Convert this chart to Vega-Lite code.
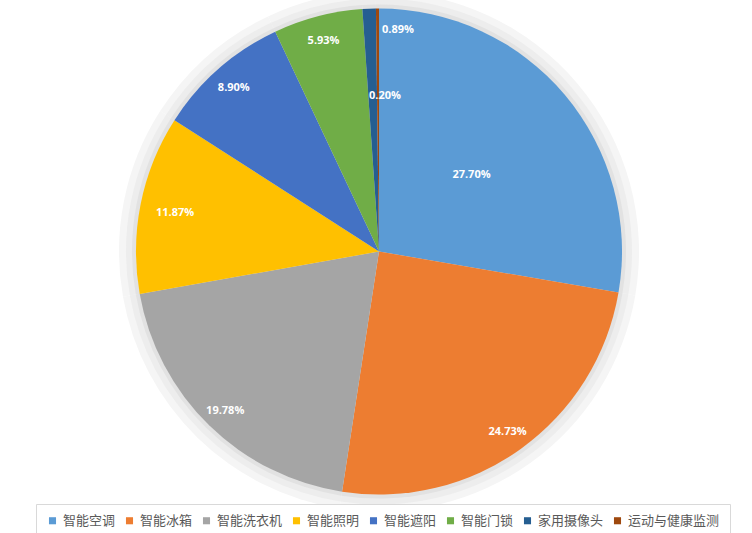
{
  "$schema": "https://vega.github.io/schema/vega-lite/v6.json",
  "autosize": "none",
  "width": 758,
  "height": 503,
  "padding": {"left": 0, "top": 0, "right": 0, "bottom": 30},
  "background": "#ffffff",
  "config": {"view": {"stroke": null}},
  "data": {"values": [
    {"idx": 1, "name": "智能空调", "share": 0.2770},
    {"idx": 2, "name": "智能冰箱", "share": 0.2473},
    {"idx": 3, "name": "智能洗衣机", "share": 0.1978},
    {"idx": 4, "name": "智能照明", "share": 0.1187},
    {"idx": 5, "name": "智能遮阳", "share": 0.0890},
    {"idx": 6, "name": "智能门锁", "share": 0.0593},
    {"idx": 7, "name": "家用摄像头", "share": 0.0089},
    {"idx": 8, "name": "运动与健康监测", "share": 0.0020}
  ]},
  "encoding": {
    "theta": {"field": "share", "type": "quantitative", "stack": true},
    "order": {"field": "idx", "type": "quantitative", "sort": "ascending"}
  },
  "layer": [
    {
      "mark": {"type": "arc", "outerRadius": 260, "color": "#f5f5f5"},
      "encoding": {}
    },
    {
      "mark": {"type": "arc", "outerRadius": 253, "color": "#ededed"},
      "encoding": {}
    },
    {
      "mark": {"type": "arc", "outerRadius": 247, "color": "#e2e2e2"},
      "encoding": {}
    },
    {
      "mark": {"type": "arc", "outerRadius": 243},
      "encoding": {
        "color": {
          "field": "name", "type": "nominal",
          "sort": {"field": "idx"},
          "scale": {
            "domain": ["智能空调", "智能冰箱", "智能洗衣机", "智能照明", "智能遮阳", "智能门锁", "家用摄像头", "运动与健康监测"],
            "range": ["#5B9BD5", "#ED7D31", "#A5A5A5", "#FFC000", "#4472C4", "#70AD47", "#255E91", "#9E480E"]
          },
          "legend": {
            "title": null,
            "orient": "none",
            "legendX": 36,
            "legendY": 504,
            "direction": "horizontal",
            "columns": 8,
            "symbolType": "square",
            "symbolSize": 50,
            "symbolStrokeWidth": 0,
            "labelFont": "Noto Sans CJK SC",
            "labelFontSize": 13,
            "labelColor": "#595959",
            "labelOffset": 4,
            "columnPadding": 7,
            "padding": 10,
            "fillColor": "#ffffff",
            "strokeColor": "#d9d9d9"
          }
        }
      }
    },
    {
      "mark": {"type": "text", "radius": 220, "dy": 2, "font": "Open Sans", "fontSize": 11, "fontWeight": "bold", "color": "#ffffff"},
      "encoding": {
        "text": {"condition": {"test": "datum.idx == 2 || datum.idx == 3 || datum.idx == 5 || datum.idx == 6", "field": "share", "type": "quantitative", "format": ".2%"}, "value": ""}
      }
    },
    {
      "mark": {"type": "text", "radius": 208, "dy": 2, "font": "Open Sans", "fontSize": 11, "fontWeight": "bold", "color": "#ffffff"},
      "encoding": {
        "text": {"condition": {"test": "datum.idx == 4", "field": "share", "type": "quantitative", "format": ".2%"}, "value": ""}
      }
    },
    {
      "mark": {"type": "text", "radius": 121, "dy": 2, "font": "Open Sans", "fontSize": 11, "fontWeight": "bold", "color": "#ffffff"},
      "encoding": {
        "text": {"condition": {"test": "datum.idx == 1", "field": "share", "type": "quantitative", "format": ".2%"}, "value": ""}
      }
    },
    {
      "mark": {"type": "text", "radius": 222, "dx": 28, "font": "Open Sans", "fontSize": 11, "fontWeight": "bold", "color": "#ffffff"},
      "encoding": {
        "text": {"condition": {"test": "datum.idx == 7", "field": "share", "type": "quantitative", "format": ".2%"}, "value": ""}
      }
    },
    {
      "mark": {"type": "text", "radius": 157, "dx": 7, "dy": 1, "font": "Open Sans", "fontSize": 11, "fontWeight": "bold", "color": "#ffffff"},
      "encoding": {
        "text": {"condition": {"test": "datum.idx == 8", "field": "share", "type": "quantitative", "format": ".2%"}, "value": ""}
      }
    }
  ]
}
